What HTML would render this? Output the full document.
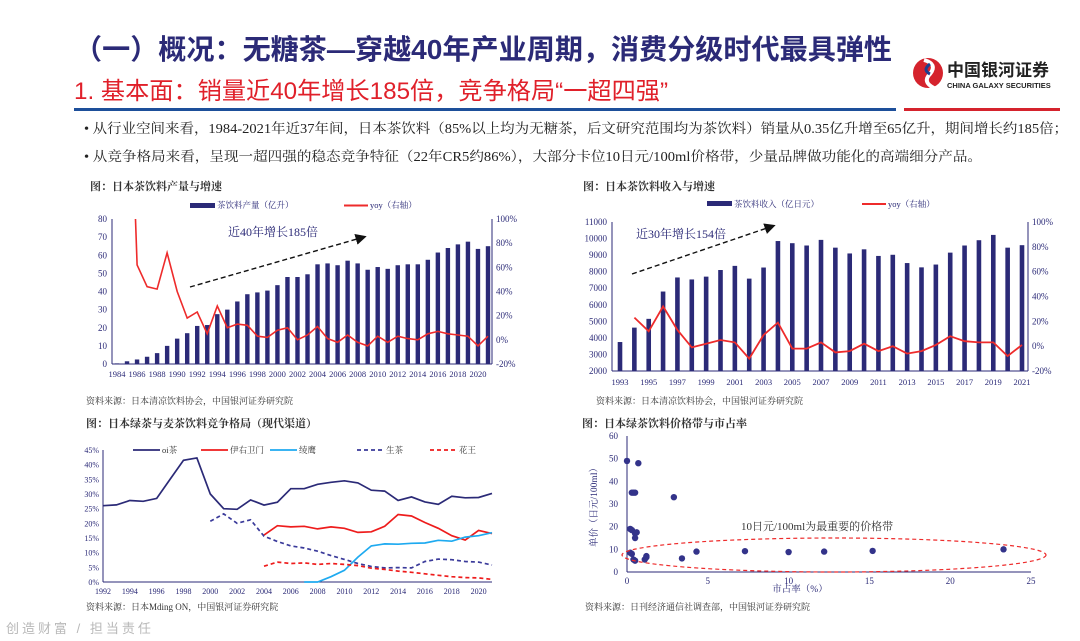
<!DOCTYPE html>
<html><head><meta charset="utf-8">
<style>
body{margin:0;background:#fff;}
svg{display:block;font-family:"Liberation Serif","Noto Serif CJK SC",serif;}
.s{font-family:"Liberation Sans","Noto Sans CJK SC",sans-serif;}
</style></head>
<body>
<svg id="root" width="1080" height="641" viewBox="0 0 1080 641" xmlns="http://www.w3.org/2000/svg">
<text class="s" x="74" y="59" font-size="28" fill="#2b2a77" font-weight="bold" textLength="818" lengthAdjust="spacingAndGlyphs">（一）概况：无糖茶—穿越40年产业周期，消费分级时代最具弹性</text>
<text class="s" x="74" y="99" font-size="24" fill="#e0202a" textLength="594" lengthAdjust="spacingAndGlyphs">1. 基本面：销量近40年增长185倍，竞争格局“一超四强”</text>
<rect x="74" y="108" width="822" height="3" fill="#1d4f9a"/>
<rect x="904" y="108" width="156" height="3" fill="#d5232d"/>
<g>
<circle cx="928" cy="73" r="15" fill="#d5232d"/>
<path d="M924 60 q14 4 6 14 q-8 8 4 14" stroke="#fff" stroke-width="4" fill="none"/>
<path d="M930 64 q-8 6 0 10" stroke="#1d3f8f" stroke-width="3" fill="none"/>
<text class="s" x="947" y="76" font-size="17" font-weight="bold" fill="#222">中国银河证券</text>
<text class="s" x="947" y="88" font-size="7.5" font-weight="bold" fill="#222">CHINA GALAXY SECURITIES</text>
</g>
<text x="84" y="133" font-size="13.5" fill="#222" textLength="984" lengthAdjust="spacingAndGlyphs">•   从行业空间来看，1984-2021年近37年间，日本茶饮料（85%以上均为无糖茶，后文研究范围均为茶饮料）销量从0.35亿升增至65亿升，期间增长约185倍；</text>
<text x="84" y="161" font-size="13.5" fill="#222" textLength="898" lengthAdjust="spacingAndGlyphs">•   从竞争格局来看，呈现一超四强的稳态竞争特征（22年CR5约86%），大部分卡位10日元/100ml价格带，少量品牌做功能化的高端细分产品。</text>
<text x="90" y="190" font-size="11" fill="#333" font-weight="bold">图：日本茶饮料产量与增速</text>
<text x="583" y="190" font-size="11" fill="#333" font-weight="bold">图：日本茶饮料收入与增速</text>
<text x="86" y="404" font-size="9" fill="#333">资料来源：日本清凉饮料协会，中国银河证券研究院</text>
<text x="596" y="404" font-size="9" fill="#333">资料来源：日本清凉饮料协会，中国银河证券研究院</text>
<text x="86" y="427" font-size="11" fill="#333" font-weight="bold">图：日本绿茶与麦茶饮料竞争格局（现代渠道）</text>
<text x="582" y="427" font-size="11" fill="#333" font-weight="bold">图：日本绿茶饮料价格带与市占率</text>
<text x="86" y="610" font-size="9" fill="#333">资料来源：日本Mding ON，中国银河证券研究院</text>
<text x="585" y="610" font-size="9" fill="#333">资料来源：日刊经济通信社调查部，中国银河证券研究院</text>
<text class="s" x="6" y="633" font-size="13" fill="#b8b8b8" letter-spacing="3">创造财富 / 担当责任</text>
<defs>
<clipPath id="c1"><rect x="112" y="219" width="380" height="146"/></clipPath>
<clipPath id="c2"><rect x="612" y="222" width="416" height="150"/></clipPath>
<marker id="ar" markerWidth="8" markerHeight="8" refX="6" refY="4" orient="auto"><path d="M0,0 L8,4 L0,8 z" fill="#111"/></marker>
</defs>
<g id="g1"></g>
<g id="g2"></g>
<g id="g3"></g>
<g id="g4"></g>
</svg>
<script>
// Chart 1 data
const c1Years=[];for(let y=1984;y<=2021;y++)c1Years.push(y);
const c1Prod=[0.35,1.5,2.5,4,6,10,14,17,21,21.5,27.5,30,34.5,38.5,39.5,40.5,43.5,48,48,49.5,55,55.5,54.5,57,55.5,52,53.5,52.5,54.5,55,55,57.5,61.5,64,66,67.5,63.5,65];
const c1Yoy=[null,300,62,44,42,72,40,18,23,5,28,10,13,12,3,2,8,10,0,4,11,1,-2,4,-2,-5,3,-2,3,1,0,5,7,5,4,3,-5,3];
const c1LeftTicks=[0,10,20,30,40,50,60,70,80];
const c1RightTicks=[-20,0,20,40,60,80,100];
// Chart 2 data
const c2Years=[];for(let y=1993;y<=2021;y++)c2Years.push(y);
const c2Rev=[3750,4620,5150,6800,7650,7530,7700,8100,8350,7580,8250,9850,9720,9580,9920,9450,9100,9350,8950,9020,8520,8260,8430,9150,9580,9900,10220,9450,9600];
const c2Yoy=[null,23,12,32,13,-1,2,5,3,-10,9,19,-2,-2,3,-5,-4,2,-4,0,-6,-4,1,8,4,3,3,-8,1];
const c2LeftTicks=[2000,3000,4000,5000,6000,7000,8000,9000,10000,11000];
// Chart 3 data
const c3Oi=[26,26.3,27.8,27.5,28.5,35,41.5,42.3,30,25,24.8,28,26.2,27.2,31.8,31.8,33.3,34,34.5,33.8,31.3,31,27.8,29,27.3,26.5,29.2,28.7,28.8,30.2];
const c3Iemon=[16,19.2,18.8,19,18.1,18.8,18.3,16.9,17.1,19,23,22.5,20.3,18.3,15.8,14.3,17.6,16.5];
const c3Ayataka=[0,0,1.8,4,8.5,12.3,13,12.9,13.2,13.3,14.2,13.9,15.3,15.8,16.8];
const c3Namacha=[20.7,23.2,20,21.2,15.6,13.8,12.3,11.6,10.5,9,7.7,6.3,5.3,4.8,4.9,4.8,7,7.8,7.6,7,6.8,5.8];
const c3Kao=[5.4,6.8,6.3,6.5,6,6.3,6,5.6,4.7,4.3,3.7,3.3,2.8,2.3,1.8,1.5,1.4,0.9];
// Chart 4 data
const c4Share=[0,0.7,0.3,0.4,0.5,2.9,0.2,0.3,0.5,0.6,0.5,0.3,0.2,0.4,0.5,1.1,1.2,1.2,3.4,4.3,7.3,10,12.2,15.2,23.3];
const c4Price=[49,48,35,35,35,33,19,18.5,17,17.5,15,8,8.5,5.5,5,5.5,6.5,7,6,9,9.2,8.8,9,9.3,10];

const NS="http://www.w3.org/2000/svg";
function mk(p,tag,a){const e=document.createElementNS(NS,tag);for(const k in a)e.setAttribute(k,a[k]);p.appendChild(e);return e;}
function tx(p,x,y,s,a){const e=mk(p,'text',Object.assign({x:x,y:y,'font-size':9,fill:'#2b2a77'},a||{}));e.textContent=s;return e;}
const NAVY='#2b2a77',RED='#ee2b2b';

// ---- Chart 1
(function(){
const g=document.getElementById('g1');
const X0=117,DX=(488-117)/37,L=112,R=492,T=219,B=364;
const xs=i=>X0+i*DX, yl=v=>B-(v/80)*(B-T), yr=v=>B-((v+20)/120)*(B-T);
let e=mk(g,'line',{x1:L,y1:T,x2:L,y2:B,stroke:NAVY});
e=mk(g,'line',{x1:R,y1:T,x2:R,y2:B,stroke:NAVY});
e=mk(g,'line',{x1:L,y1:B,x2:R,y2:B,stroke:NAVY});
c1LeftTicks.forEach(v=>{e=tx(g,L-5,yl(v)+3,String(v),{'text-anchor':'end'});});
c1RightTicks.forEach(v=>{e=tx(g,R+4,yr(v)+3,v+'%');});
c1Years.forEach((y,i)=>{if(i%2==0){e=tx(g,xs(i),377,String(y),{'text-anchor':'middle','font-size':8.5});}});
c1Prod.forEach((v,i)=>{e=mk(g,'rect',{x:xs(i)-2.2,y:yl(v),width:4.4,height:B-yl(v),fill:NAVY});});
let d='';c1Yoy.forEach((v,i)=>{if(v!==null)d+=(d?'L':'M')+xs(i).toFixed(1)+','+yr(v).toFixed(1);});
e=mk(g,'path',{d:d,stroke:RED,'stroke-width':1.6,fill:'none','clip-path':'url(#c1)'});
e=mk(g,'rect',{x:190,y:203,width:25,height:5,fill:NAVY});
tx(g,217,208,'茶饮料产量（亿升）',{'font-size':8.5});
e=mk(g,'line',{x1:344,y1:205.5,x2:368,y2:205.5,stroke:RED,'stroke-width':2});
tx(g,370,208,'yoy（右轴）',{'font-size':8.5});
e=mk(g,'line',{x1:190,y1:287,x2:364,y2:237,stroke:'#111','stroke-width':1.4,'stroke-dasharray':'5,3','marker-end':'url(#ar)'});
e=tx(g,228,236,'近40年增长185倍',{'font-size':12});
})();

// ---- Chart 2
(function(){
const g=document.getElementById('g2');
const X0=620,DX=(1022-620)/28,L=612,R=1028,T=222,B=371;
const xs=i=>X0+i*DX, yl=v=>B-((v-2000)/9000)*(B-T), yr=v=>B-((v+20)/120)*(B-T);
let e=mk(g,'line',{x1:L,y1:T,x2:L,y2:B,stroke:NAVY});
e=mk(g,'line',{x1:R,y1:T,x2:R,y2:B,stroke:NAVY});
e=mk(g,'line',{x1:L,y1:B,x2:R,y2:B,stroke:NAVY});
c2LeftTicks.forEach(v=>{e=tx(g,L-5,yl(v)+3,String(v),{'text-anchor':'end'});});
c1RightTicks.forEach(v=>{e=tx(g,R+4,yr(v)+3,v+'%');});
c2Years.forEach((y,i)=>{if(i%2==0){e=tx(g,xs(i),385,String(y),{'text-anchor':'middle','font-size':8.5});}});
c2Rev.forEach((v,i)=>{e=mk(g,'rect',{x:xs(i)-2.3,y:yl(v),width:4.6,height:B-yl(v),fill:NAVY});});
let d='';c2Yoy.forEach((v,i)=>{if(v!==null)d+=(d?'L':'M')+xs(i).toFixed(1)+','+yr(v).toFixed(1);});
e=mk(g,'path',{d:d,stroke:RED,'stroke-width':1.8,fill:'none','clip-path':'url(#c2)'});
e=mk(g,'rect',{x:707,y:201,width:25,height:5,fill:NAVY});
tx(g,734,207,'茶饮料收入（亿日元）',{'font-size':8.5});
e=mk(g,'line',{x1:862,y1:204,x2:886,y2:204,stroke:RED,'stroke-width':2});
tx(g,888,207,'yoy（右轴）',{'font-size':8.5});
e=mk(g,'line',{x1:632,y1:274,x2:773,y2:226,stroke:'#111','stroke-width':1.4,'stroke-dasharray':'5,3','marker-end':'url(#ar)'});
e=tx(g,636,238,'近30年增长154倍',{'font-size':12});
})();

// ---- Chart 3
(function(){
const g=document.getElementById('g3');
const L=103,R=492,T=450,B=582,DX=(492-103)/29;
const xs=y=>L+(y-1992)*DX, ys=v=>B-(v/45)*(B-T);
let e=mk(g,'line',{x1:L,y1:T,x2:L,y2:B,stroke:NAVY});
e=mk(g,'line',{x1:L,y1:B,x2:R,y2:B,stroke:NAVY});
for(let v=0;v<=45;v+=5){e=tx(g,L-4,ys(v)+3,v+'%',{'text-anchor':'end','font-size':8});}
for(let y=1992;y<=2020;y+=2){e=tx(g,xs(y),594,String(y),{'text-anchor':'middle','font-size':8});}
const series=[[c3Oi,1992,NAVY,'',  'oi茶','line-oi-ocha'],[c3Iemon,2004,'#ee1c1c','','伊右卫门','line-iyemon'],[c3Ayataka,2007,'#1eaaf0','','绫鹰','line-ayataka'],[c3Namacha,2000,'#3a3a9a','4,3','生茶','line-namacha'],[c3Kao,2004,'#ee1c1c','4,3','花王','line-kao']];
const lx=[133,201,270,357,430];
series.forEach((s,k)=>{
 let d='';s[0].forEach((v,i)=>{d+=(i?'L':'M')+xs(s[1]+i).toFixed(1)+','+ys(v).toFixed(1);});
 let p=mk(g,'path',{d:d,stroke:s[2],'stroke-width':1.7,fill:'none'});if(s[3])p.setAttribute('stroke-dasharray',s[3]);
 
 let l=mk(g,'line',{x1:lx[k],y1:450,x2:lx[k]+27,y2:450,stroke:s[2],'stroke-width':1.7});if(s[3])l.setAttribute('stroke-dasharray',s[3]);
 
 tx(g,lx[k]+29,453,s[4],{'font-size':8.5,fill:'#333'});
});
})();

// ---- Chart 4
(function(){
const g=document.getElementById('g4');
const L=627,R=1031,T=436,B=572;
const xs=v=>L+(v/25)*(R-L), ys=v=>B-(v/60)*(B-T);
let e=mk(g,'line',{x1:L,y1:T,x2:L,y2:B,stroke:NAVY});
e=mk(g,'line',{x1:L,y1:B,x2:R,y2:B,stroke:NAVY});
for(let v=0;v<=60;v+=10){e=tx(g,L-9,ys(v)+3,String(v),{'text-anchor':'end','font-size':9});}
for(let v=0;v<=25;v+=5){e=tx(g,xs(v),584,String(v),{'text-anchor':'middle','font-size':9});}
e=tx(g,800,592,'市占率（%）',{'text-anchor':'middle','font-size':9.5});
const yt=mk(g,'text',{x:0,y:0,'font-size':9.5,fill:NAVY,'text-anchor':'middle',transform:'translate(597,505) rotate(-90)'});yt.textContent='单价（日元/100ml）';

c4Share.forEach((v,i)=>{e=mk(g,'circle',{cx:xs(v),cy:ys(c4Price[i]),r:3.2,fill:'#33338a'});});
e=mk(g,'ellipse',{cx:834,cy:555,rx:212,ry:17,fill:'none',stroke:RED,'stroke-width':1.2,'stroke-dasharray':'4,3'});
e=tx(g,741,530,'10日元/100ml为最重要的价格带',{'font-size':11,fill:'#333'});
})();
</script>
</body></html>
